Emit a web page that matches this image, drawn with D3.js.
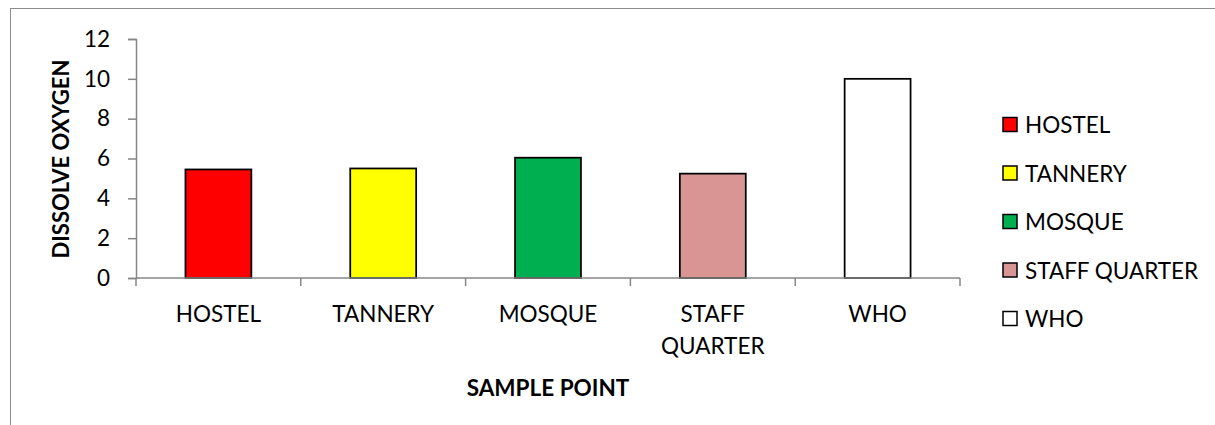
<!DOCTYPE html>
<html>
<head>
<meta charset="utf-8">
<script src="https://cdn.jsdelivr.net/npm/d3@7"></script>
<style>
  html, body { margin: 0; padding: 0; background: #fff; }
  svg { display: block; }
  text { font-family: Lato, "Open Sans", sans-serif; fill: #000; }
</style>
</head>
<body>
<svg id="chart" width="1215" height="425"></svg>
<script>
// Dissolved oxygen per sample point
const categories = ["HOSTEL", "TANNERY", "MOSQUE", "STAFF QUARTER", "WHO"];
const values = [5.45, 5.5, 6.04, 5.24, 10];
const colors = ["#ff0000", "#ffff00", "#00b050", "#d99594", "#ffffff"];
const yTicks = [0, 2, 4, 6, 8, 10, 12];
const yTitle = "DISSOLVE OXYGEN";
const xTitle = "SAMPLE POINT";

const svg = d3.select("#chart");
const W = 1215, H = 425;
const plot = { left: 136, right: 960, top: 39, bottom: 278 };
const axisColor = "#868686";
const fontSize = 22.5;

// Chart frame
svg.append("rect")
  .attr("x", 10.5).attr("y", 8.5)
  .attr("width", W + 20).attr("height", H + 20)
  .attr("fill", "#fff")
  .attr("stroke", "#8c8c8c").attr("stroke-width", 1);

const x = d3.scaleBand()
  .domain(categories)
  .range([plot.left, plot.right])
  .paddingInner(0.6)
  .paddingOuter(0.3);

const xBand = d3.scaleBand()
  .domain(categories)
  .range([plot.left, plot.right]);

const y = d3.scaleLinear()
  .domain([0, 12])
  .range([plot.bottom, plot.top]);

// Bars
svg.append("g")
  .selectAll("rect")
  .data(categories)
  .join("rect")
  .attr("x", d => x(d))
  .attr("width", x.bandwidth())
  .attr("y", (d, i) => y(values[i]))
  .attr("height", (d, i) => y(0) - y(values[i]))
  .attr("fill", (d, i) => colors[i])
  .attr("stroke", "#000")
  .attr("stroke-width", 1.75);

// Y axis
const yAxis = svg.append("g")
  .attr("transform", `translate(${plot.left},0)`)
  .call(d3.axisLeft(y).tickValues(yTicks).tickSize(8).tickPadding(18).tickFormat(d3.format("d")));
yAxis.select(".domain").attr("stroke", axisColor).attr("stroke-width", 1.5);
yAxis.selectAll(".tick line").attr("stroke", axisColor).attr("stroke-width", 1.5);
yAxis.selectAll(".tick text")
  .attr("font-size", fontSize)
  .attr("font-family", "Lato, sans-serif")
  .attr("fill", "#000");

// X axis: ticks on category boundaries
const xAxisG = svg.append("g").attr("transform", `translate(0,${plot.bottom})`);
xAxisG.append("line")
  .attr("x1", plot.left).attr("x2", plot.right)
  .attr("stroke", axisColor).attr("stroke-width", 1.5);
const boundaries = categories.map(d => xBand(d)).concat([plot.right]);
xAxisG.selectAll("line.tick")
  .data(boundaries)
  .join("line")
  .attr("class", "tick")
  .attr("x1", d => d).attr("x2", d => d)
  .attr("y1", 0).attr("y2", 8)
  .attr("stroke", axisColor).attr("stroke-width", 1.5);

// Category labels (wrapped onto two lines where needed)
const labelLines = { "STAFF QUARTER": ["STAFF", "QUARTER"] };
svg.append("g")
  .selectAll("text")
  .data(categories)
  .join("text")
  .attr("x", d => xBand(d) + xBand.bandwidth() / 2)
  .attr("y", 322)
  .attr("text-anchor", "middle")
  .attr("font-size", fontSize)
  .each(function(d) {
    const lines = labelLines[d] || [d];
    const t = d3.select(this);
    lines.forEach((l, i) => {
      t.append("tspan")
        .attr("x", xBand(d) + xBand.bandwidth() / 2)
        .attr("dy", i === 0 ? 0 : 32)
        .text(l);
    });
  });

// Axis titles
svg.append("text")
  .attr("transform", `translate(69,159) rotate(-90)`)
  .attr("text-anchor", "middle")
  .attr("font-size", 22)
  .attr("font-weight", "bold")
  .text(yTitle);

svg.append("text")
  .attr("x", (plot.left + plot.right) / 2)
  .attr("y", 396)
  .attr("text-anchor", "middle")
  .attr("font-size", fontSize)
  .attr("font-weight", "bold")
  .text(xTitle);

// Legend
const legendY = d3.scalePoint()
  .domain(categories)
  .range([125, 319]);
const legend = svg.append("g")
  .selectAll("g")
  .data(categories)
  .join("g")
  .attr("transform", d => `translate(1003,${legendY(d)})`);
legend.append("rect")
  .attr("x", 0).attr("y", -7.5)
  .attr("width", 14).attr("height", 14)
  .attr("fill", (d, i) => colors[i])
  .attr("stroke", "#000").attr("stroke-width", 1.5);
legend.append("text")
  .attr("x", 22).attr("y", 0)
  .attr("dy", "0.36em")
  .attr("font-size", fontSize)
  .text(d => d);
</script>
</body>
</html>
